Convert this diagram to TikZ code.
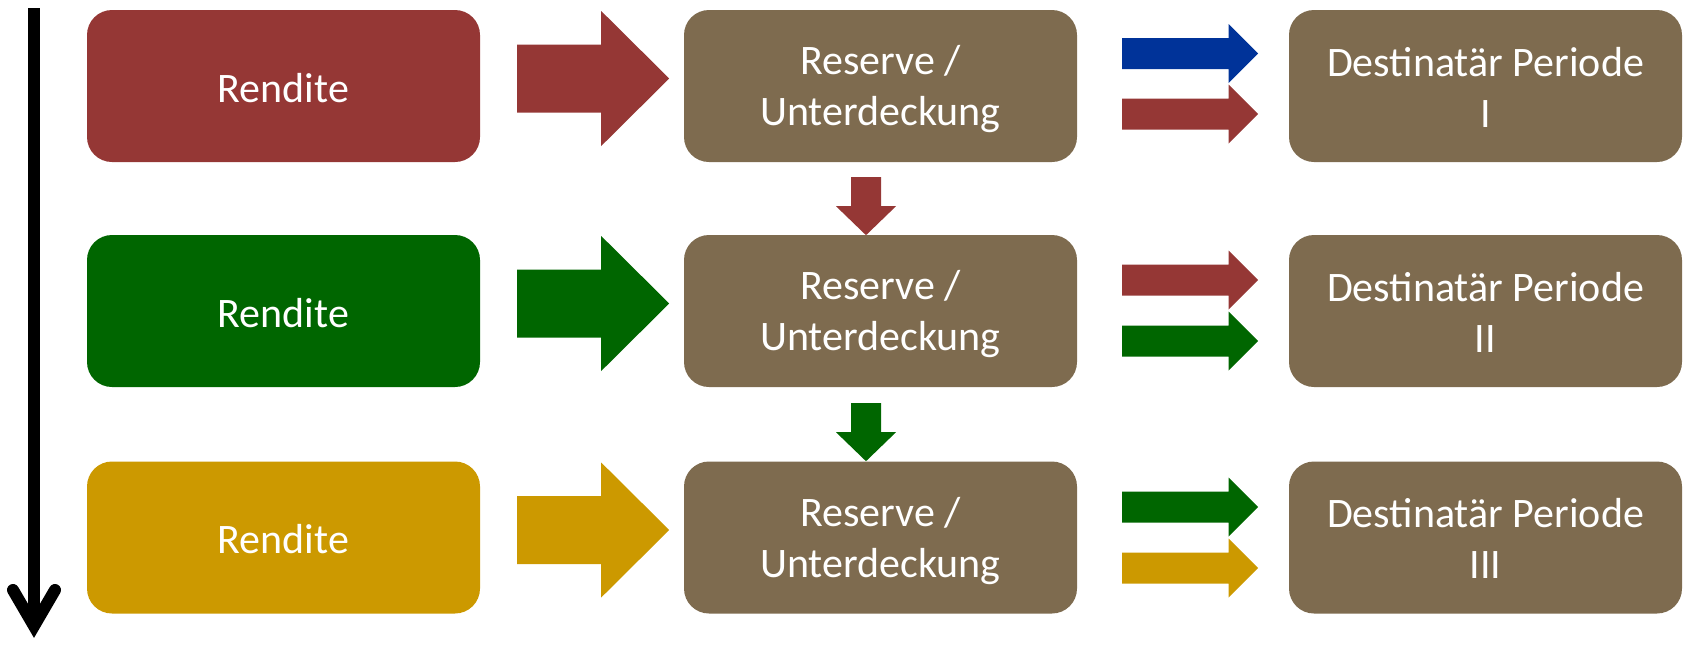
\documentclass[tikz,border=0pt]{standalone}
\usepackage{fontspec}
\setmainfont{Carlito}
\usetikzlibrary{calc}
\definecolor{rred}{HTML}{953735}
\definecolor{rgreen}{HTML}{006600}
\definecolor{rgold}{HTML}{CC9900}
\definecolor{rbrown}{HTML}{7E6B4F}
\definecolor{rblue}{HTML}{003399}
% horizontal block arrow: colour, start coordinate (shaft-left, centre line), shaft length, head length, shaft half-height, head half-height
\newcommand{\hblock}[6]{%
  \fill[#1] ($(#2)+(0,-#5)$) -- ++(#3,0) -- ++(0,{#5-#6}) -- ++(#4,#6) -- ++(-#4,#6) -- ++(0,{#5-#6}) -- ++(-#3,0) -- cycle;}
% vertical block arrow: colour, start coordinate (shaft top, centre line), shaft length, head length, shaft half-width, head half-width
\newcommand{\vblock}[6]{%
  \fill[#1] ($(#2)+(-#5,0)$) -- ++(0,#3) -- ++({#5-#6},0) -- ++(#6,#4) -- ++(#6,-#4) -- ++({#5-#6},0) -- ++(0,-#3) -- cycle;}
\begin{document}
\begin{tikzpicture}[x=1pt,y=-1pt,
  box/.style={rounded corners=25pt, minimum width=393pt, minimum height=152pt,
    inner sep=0pt},
  lbl/.style={text=white, font=\fontsize{42}{51}\selectfont, align=center, inner sep=0pt},
  timeline/.style={line width=12pt}]
\useasboundingbox (0,0) rectangle (1686,662);

% boxes
\node[box, fill=rred,   label={[lbl, yshift=-2pt]center:Rendite}] (r1) at (283.5,86) {};
\node[box, fill=rgreen, label={[lbl, yshift=-2pt]center:Rendite}] (r2) at (283.5,311) {};
\node[box, fill=rgold,  label={[lbl, yshift=-2pt]center:Rendite}] (r3) at (283.5,537.5) {};
\node[box, fill=rbrown, label={[lbl, yshift=-3.5pt]center:{Reserve /\\Unterdeckung}}] (m1) at (880.5,86) {};
\node[box, fill=rbrown, label={[lbl, yshift=-3.5pt]center:{Reserve /\\Unterdeckung}}] (m2) at (880.5,311) {};
\node[box, fill=rbrown, label={[lbl, yshift=-3.5pt]center:{Reserve /\\Unterdeckung}}] (m3) at (880.5,537.5) {};
\node[box, fill=rbrown, label={[lbl, yshift=-1pt]center:{Destinatär Periode\\I}}] (d1) at (1485.5,86) {};
\node[box, fill=rbrown, label={[lbl, yshift=-1pt]center:{Destinatär Periode\\II}}] (d2) at (1485.5,311) {};
\node[box, fill=rbrown, label={[lbl, yshift=-1pt]center:{Destinatär Periode\\III}}] (d3) at (1485.5,537.5) {};

% big arrows Rendite -> Reserve
\coordinate (b1) at ($(r1.east)+(37,-7.5)$);
\coordinate (b2) at ($(r2.east)+(37,-7.5)$);
\coordinate (b3) at ($(r3.east)+(37,-7.5)$);
\hblock{rred}{b1}{84}{68}{34}{67.5}
\hblock{rgreen}{b2}{84}{68}{34}{67.5}
\hblock{rgold}{b3}{84}{68}{34}{67.5}

% small arrows Reserve -> Destinatär
\coordinate (s1a) at ($(m1.east)+(45,-32.5)$);
\coordinate (s1b) at ($(m1.east)+(45,28)$);
\coordinate (s2a) at ($(m2.east)+(45,-31)$);
\coordinate (s2b) at ($(m2.east)+(45,30)$);
\coordinate (s3a) at ($(m3.east)+(45,-30.5)$);
\coordinate (s3b) at ($(m3.east)+(45,30.5)$);
\hblock{rblue}{s1a}{106.5}{29.5}{15.5}{29.5}
\hblock{rred}{s1b}{106.5}{29.5}{15.5}{29.5}
\hblock{rred}{s2a}{106.5}{29.5}{15.5}{29.5}
\hblock{rgreen}{s2b}{106.5}{29.5}{15.5}{29.5}
\hblock{rgreen}{s3a}{106.5}{29.5}{15.5}{29.5}
\hblock{rgold}{s3b}{106.5}{29.5}{15.5}{29.5}

% down arrows between Reserve boxes
\coordinate (v1) at ($(m1.south)+(-14.5,15)$);
\coordinate (v2) at ($(m2.south)+(-14.5,16)$);
\vblock{rred}{v1}{29}{29}{15}{30}
\vblock{rgreen}{v2}{29}{29}{15}{30}

% time axis
\coordinate (t0) at (34,8);
\coordinate (t1) at (34,626);
\coordinate (ta) at (13,590);
\coordinate (tb) at (55,590);
\draw[timeline] (t0) -- (t1);
\draw[timeline, line cap=round, miter limit=10] (ta) -- (t1) -- (tb);
\end{tikzpicture}
\end{document}
